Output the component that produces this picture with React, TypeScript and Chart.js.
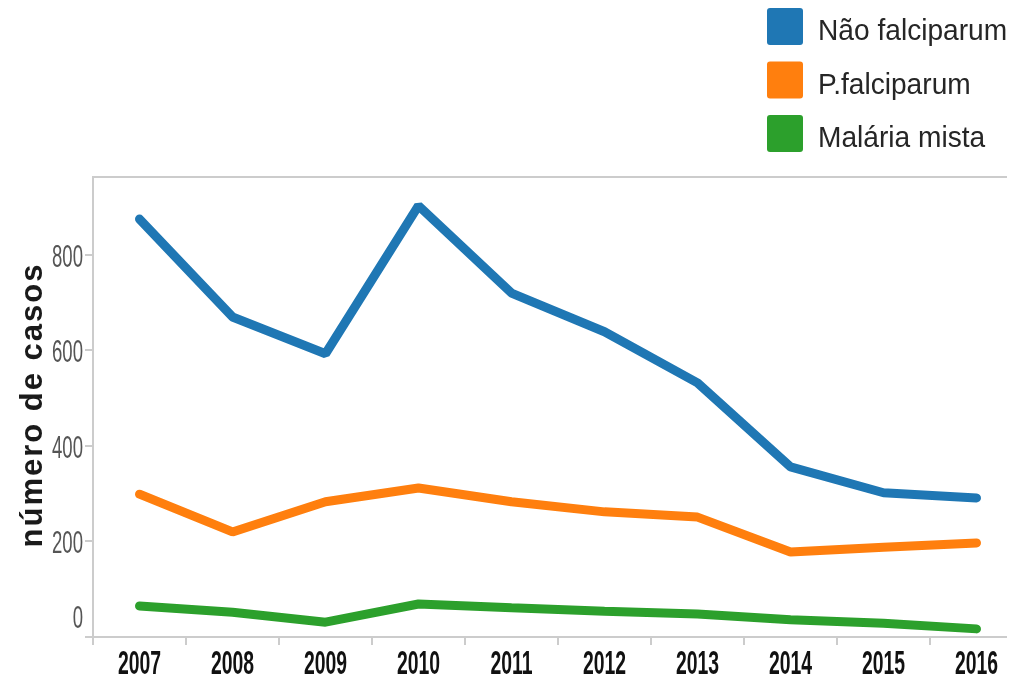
import React, { useEffect, useRef } from 'react';
import { Chart, registerables } from 'chart.js';

Chart.register(...registerables);

// ---- data ----
const years = ['2007', '2008', '2009', '2010', '2011', '2012', '2013', '2014', '2015', '2016'];
const naoFalciparum = [875, 670, 593, 903, 720, 639, 532, 356, 302, 291];
const pFalciparum = [299, 220, 283, 312, 283, 262, 251, 178, 188, 197];
const malariaMista = [65, 52, 31, 69, 61, 54, 48, 36, 29, 17];
const yTicks = [0, 200, 400, 600, 800];
const seriesNames = ['Não falciparum', 'P.falciparum', 'Malária mista'];
const seriesColors = ['#1f77b4', '#ff7f0e', '#2ca02c'];
const yTitle = 'número de casos';

// ---- styling constants ----
const CANVAS_W = 1040;
const CANVAS_H = 684;
const FRAME_RIGHT = 1007;
const GRID_COLOR = '#cccccc';
const FONT = '"Liberation Sans", Arial, Helvetica, sans-serif';

const decorPlugin = {
  id: 'decor',
  afterDraw(chart: any) {
    const ctx: CanvasRenderingContext2D = chart.ctx;
    const { left, top, bottom } = chart.chartArea;
    const xs = chart.scales.x;
    const ys = chart.scales.y;
    ctx.save();

    // frame: top line and bottom axis line
    ctx.strokeStyle = GRID_COLOR;
    ctx.lineWidth = 2;
    ctx.beginPath();
    ctx.moveTo(left, top);
    ctx.lineTo(FRAME_RIGHT, top);
    ctx.stroke();
    ctx.beginPath();
    ctx.moveTo(left - 6, bottom);
    ctx.lineTo(FRAME_RIGHT, bottom);
    ctx.stroke();

    // x tick labels (condensed bold)
    const labels: string[] = chart.data.labels;
    labels.forEach((lab, i) => {
      const x = xs.getPixelForTick(i);
      ctx.save();
      ctx.translate(x, bottom + 37);
      ctx.scale(0.57, 1);
      ctx.font = `bold 34px ${FONT}`;
      ctx.fillStyle = '#111111';
      ctx.textAlign = 'center';
      ctx.textBaseline = 'alphabetic';
      ctx.fillText(lab, 0, 0);
      ctx.restore();
    });

    // y tick labels (condensed regular, grey)
    yTicks.forEach((v) => {
      let y = ys.getPixelForValue(v) + 12;
      if (v === 0) y -= 21;
      ctx.save();
      ctx.translate(left - 10, y);
      ctx.scale(0.58, 1);
      ctx.font = `32px ${FONT}`;
      ctx.fillStyle = '#555555';
      ctx.textAlign = 'right';
      ctx.textBaseline = 'alphabetic';
      ctx.fillText(String(v), 0, 0);
      ctx.restore();
    });

    // y axis title
    ctx.save();
    ctx.translate(42, (top + bottom) / 2 - 2);
    ctx.rotate(-Math.PI / 2);
    ctx.font = `bold 31px ${FONT}`;
    try { (ctx as any).letterSpacing = '2px'; } catch (e) {}
    ctx.fillStyle = '#1a1a1a';
    ctx.textAlign = 'center';
    ctx.textBaseline = 'alphabetic';
    ctx.fillText(yTitle, 0, 0);
    ctx.restore();

    // legend (top right)
    chart.data.datasets.forEach((ds: any, i: number) => {
      const sy = 8 + i * 53.5;
      ctx.fillStyle = ds.borderColor;
      ctx.beginPath();
      if ((ctx as any).roundRect) {
        (ctx as any).roundRect(767, sy, 36, 37, 3);
      } else {
        ctx.rect(767, sy, 36, 37);
      }
      ctx.fill();
      ctx.save();
      ctx.translate(818, sy + 32);
      ctx.scale(0.97, 1);
      ctx.font = `29px ${FONT}`;
      ctx.fillStyle = '#262626';
      ctx.textAlign = 'left';
      ctx.textBaseline = 'alphabetic';
      ctx.fillText(ds.label, 0, 0);
      ctx.restore();
    });

    ctx.restore();
  },
};

export default function App() {
  const canvasRef = useRef<HTMLCanvasElement | null>(null);

  useEffect(() => {
    if (!canvasRef.current) return;
    const series = [naoFalciparum, pFalciparum, malariaMista];
    const chart = new Chart(canvasRef.current, {
      type: 'line',
      data: {
        labels: years,
        datasets: series.map((d, i) => ({
          label: seriesNames[i],
          data: d,
          borderColor: seriesColors[i],
          backgroundColor: seriesColors[i],
          borderWidth: 9,
          pointRadius: 0,
          pointHoverRadius: 0,
          tension: 0,
          fill: false,
          borderCapStyle: 'round',
          borderJoinStyle: 'bevel',
        })),
      },
      options: {
        responsive: false,
        animation: false,
        events: [],
        layout: { padding: { top: 177, right: CANVAS_W - 1023, left: 0, bottom: 0 } },
        plugins: {
          legend: { display: false },
          tooltip: { enabled: false },
          title: { display: false },
        },
        scales: {
          x: {
            type: 'category',
            offset: true,
            grid: {
              display: true,
              offset: true,
              drawOnChartArea: false,
              drawTicks: true,
              tickLength: 8,
              color: GRID_COLOR,
              lineWidth: 2,
            },
            border: { display: false },
            ticks: { display: false },
            afterFit: (scale: any) => {
              scale.height = CANVAS_H - 637;
            },
          },
          y: {
            type: 'linear',
            min: 0,
            max: 963,
            grid: {
              display: true,
              drawOnChartArea: false,
              drawTicks: true,
              tickLength: 8,
              color: GRID_COLOR,
              lineWidth: 2,
            },
            border: { display: true, color: GRID_COLOR, width: 2 },
            ticks: { display: false },
            afterBuildTicks: (scale: any) => {
              scale.ticks = yTicks.map((v) => ({ value: v }));
            },
            afterFit: (scale: any) => {
              scale.width = 93;
            },
          },
        },
      },
      plugins: [decorPlugin],
    } as any);
    return () => chart.destroy();
  }, []);

  return (
    <div
      style={{
        position: 'fixed',
        left: 0,
        top: 0,
        width: 1019,
        height: 684,
        overflow: 'hidden',
        background: '#ffffff',
      }}
    >
      <canvas ref={canvasRef} width={CANVAS_W} height={CANVAS_H} style={{ display: 'block' }} />
    </div>
  );
}
